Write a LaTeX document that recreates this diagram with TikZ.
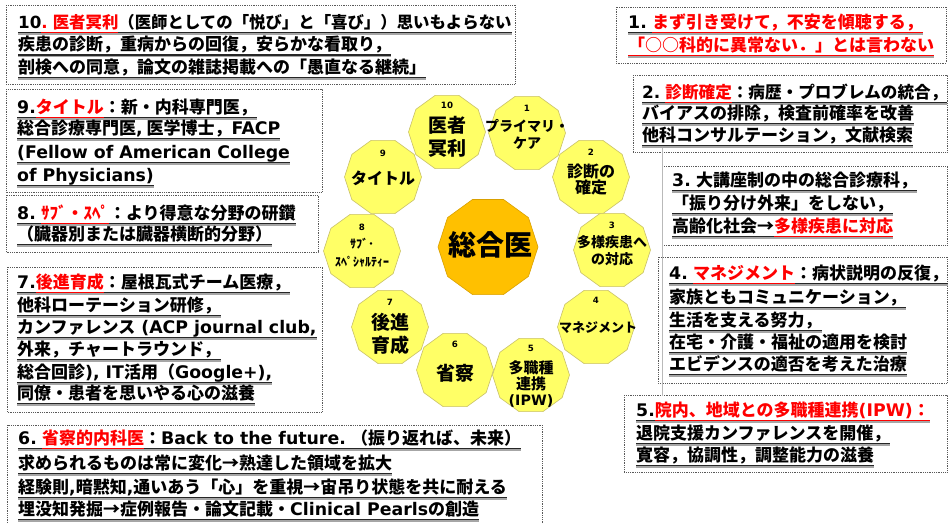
\documentclass[tikz,border=0pt]{standalone}
\usepackage{fontspec}
\setmainfont{Noto Sans CJK JP}
\newfontfamily\lat{DejaVu Sans}[Scale=1.02]
\usetikzlibrary{shapes.geometric}
\definecolor{redt}{HTML}{FF0000}
\definecolor{ulk}{HTML}{262626}
\definecolor{ulshadow}{HTML}{A6A6A6}
\definecolor{yel}{HTML}{FFFF66}
\definecolor{yelborder}{HTML}{C8C068}
\definecolor{orgc}{HTML}{FFC000}
\definecolor{orgborder}{HTML}{D9A000}
\definecolor{dotc}{HTML}{595959}
\newsavebox\ulbox
\newcommand\ulc[2]{\sbox\ulbox{#2}\rlap{\color{ulshadow}\rule[-6.6pt]{\wd\ulbox}{1.3pt}}\rlap{\color{#1}\rule[-5.0pt]{\wd\ulbox}{1.2pt}}\usebox\ulbox}
\newcommand\ul[1]{\ulc{ulk}{#1}}
\newcommand\ulr[1]{\ulc{redt}{\color{redt}#1}}
\newcommand\la[1]{{\lat #1}}
\tikzset{
  txt/.style={anchor=base west, inner sep=0pt, text=black, font=\bfseries\fontsize{17}{22}\selectfont},
  dotbox/.style={draw=dotc, line width=0.7pt, dash pattern=on 0.7pt off 1.1pt},
  ybox/.style={regular polygon, regular polygon sides=10, minimum size=77pt, inner sep=0pt, fill=yel, draw=yelborder, line width=0.6pt},
  cbox/.style={regular polygon, regular polygon sides=10, minimum size=100pt, inner sep=0pt, fill=orgc, draw=orgborder, line width=0.6pt},
  num/.style={inner sep=0pt, font=\lat\bfseries\fontsize{8.5}{10}\selectfont},
  lab/.style={inner sep=0pt, align=center, font=\bfseries\fontsize{#1}{#1}\selectfont},
}
\begin{document}
\begin{tikzpicture}[x=1pt, y=-1pt]
\useasboundingbox (0,0) rectangle (948,523);
\fill[white] (0,0) rectangle (948,523);

% dotted boxes
\draw[dotbox] (6,5) rectangle (515,84);
\draw[dotbox] (616,7) rectangle (946,63);
\draw[dotbox] (633,75) rectangle (947,152);
\draw[dotbox] (662,166) rectangle (947,245);
\draw[dotbox] (658,257) rectangle (947,383);
\draw[dotbox] (624,395) rectangle (947,472);
\draw[dotbox] (6,89) rectangle (322,192);
\draw[dotbox] (6,195) rectangle (318,252);
\draw[dotbox] (7,267) rectangle (322,412);
\draw[dotbox] (7,425) rectangle (542,535);
\draw[gray!55, line width=0.4pt] (662,148) -- (662,396);

% ring of decagons
\node[cbox] (c) at (488,247) {};
\node[inner sep=0pt, font=\bfseries\fontsize{28}{28}\selectfont] (ct) at (490,245) {総合医};

\node[ybox] (y10) at (447,132) {};
\node[ybox] (y1) at (527,133) {};
\node[ybox] (y2) at (591,177) {};
\node[ybox] (y3) at (612,250) {};
\node[ybox] (y4) at (596,327) {};
\node[ybox] (y5) at (531,375) {};
\node[ybox] (y6) at (455,370) {};
\node[ybox] (y7) at (390,327) {};
\node[ybox] (y8) at (362,251) {};
\node[ybox] (y9) at (383,177) {};

\node[num] (n10) at (447,105) {10};
\node[num] (n1) at (527,108) {1};
\node[num] (n2) at (591,152) {2};
\node[num] (n3) at (612,225) {3};
\node[num] (n4) at (596,300) {4};
\node[num] (n5) at (531,348) {5};
\node[num] (n6) at (455,344) {6};
\node[num] (n7) at (390,302) {7};
\node[num] (n8) at (362,227) {8};
\node[num] (n9) at (383,153) {9};

\node[lab=19, font=\bfseries\fontsize{19}{23}\selectfont] (l10) at (447,137) {医者\\冥利};
\node[lab=14, font=\bfseries\fontsize{14}{17}\selectfont] (l1) at (527,134) {プライマリ・\\ケア};
\node[lab=16, font=\bfseries\fontsize{16}{16}\selectfont] (l2) at (591,180) {診断の\\確定};
\node[lab=14, font=\bfseries\fontsize{14}{17}\selectfont] (l3) at (612,251) {多様疾患へ\\の対応};
\node[lab=13] (l4) at (598,328) {マネジメント};
\node[lab=15, font=\bfseries\fontsize{15}{16}\selectfont] (l5) at (531,384) {多職種\\連携\\{\fontsize{14}{16}\selectfont\la{(IPW)}}};
\node[lab=19] (l6) at (455,373) {省察};
\node[lab=19, font=\bfseries\fontsize{19}{23}\selectfont] (l7) at (390,334) {後進\\育成};
\node[lab=12, font=\bfseries\fontsize{12}{18}\selectfont] (l8) at (362,253) {ｻﾌﾞ･\\ｽﾍﾟｼｬﾙﾃｨｰ};
\node[lab=16] (l9) at (383,178) {タイトル};

% box 10
\node[txt, font=\bfseries\fontsize{16.4}{22}\selectfont] (t10a) at (18,28) {\ul{\la{10}}\ulr{\la{.} 医者冥利}\ul{（医師としての「悦び」と「喜び」）思いもよらない}};
\node[txt] (t10b) at (18,50.5) {\ul{疾患の診断，重病からの回復，安らかな看取り，}};
\node[txt] (t10c) at (18,73) {\ul{剖検への同意，論文の雑誌掲載への「愚直なる継続」}};
% box 1
\node[txt] (t1a) at (628,28) {\ul{\la{1.} }\ulr{まず引き受けて，不安を傾聴する，}};
\node[txt] (t1b) at (628,51) {\ulr{「○○科的に異常ない．」とは言わない}};
% box 2
\node[txt, font=\bfseries\fontsize{16.6}{22}\selectfont] (t2a) at (642,98) {\ul{\la{2.} }\ulr{診断確定}\ul{：病歴・プロブレムの統合，}};
\node[txt] (t2b) at (642,119) {\ul{バイアスの排除，検査前確率を改善}};
\node[txt] (t2c) at (642,141) {\ul{他科コンサルテーション，文献検索}};
% box 3
\node[txt] (t3a) at (672,186) {\ul{\la{3.} 大講座制の中の総合診療科，}};
\node[txt] (t3b) at (672,209) {\ul{「振り分け外来」をしない，}};
\node[txt] (t3c) at (672,232) {\ul{高齢化社会→}\ulr{多様疾患に対応}};
% box 4
\node[txt] (t4a) at (669,279) {\ul{\la{4.} }\ulr{マネジメント}\ul{：病状説明の反復，}};
\node[txt] (t4b) at (669,303) {\ul{家族ともコミュニケーション，}};
\node[txt] (t4c) at (669,326) {\ul{生活を支える努力，}};
\node[txt] (t4d) at (669,348) {\ul{在宅・介護・福祉の適用を検討}};
\node[txt] (t4e) at (669,370) {\ul{エビデンスの適否を考えた治療}};
% box 5
\node[txt] (t5a) at (636,416) {\ul{\la{5.}}\ulr{院内、地域との多職種連携\la{(IPW)}：}};
\node[txt] (t5b) at (636,439) {\ul{退院支援カンファレンスを開催，}};
\node[txt] (t5c) at (636,461) {\ul{寛容，協調性，調整能力の滋養}};
% box 9
\node[txt] (t9a) at (17,113) {\ul{\la{9.}}\ulr{タイトル}\ul{：新・内科専門医，}};
\node[txt] (t9b) at (17,134) {\ul{総合診療専門医\la{,} 医学博士，\la{FACP}}};
\node[txt] (t9c) at (17,158) {\ul{\la{(Fellow of American College}}};
\node[txt] (t9d) at (17,181) {\ul{\la{of Physicians)}}};
% box 8
\node[txt] (t8a) at (17,219) {\ul{\la{8.} }\ulr{ｻﾌﾞ・ｽﾍﾟ}\ul{：より得意な分野の研鑽}};
\node[txt] (t8b) at (17,240) {\ul{（臓器別または臓器横断的分野）}};
% box 7
\node[txt] (t7a) at (17,288) {\ul{\la{7.}}\ulr{後進育成}\ul{：屋根瓦式チーム医療，}};
\node[txt] (t7b) at (17,311) {\ul{他科ローテーション研修，}};
\node[txt] (t7c) at (17,333) {\ul{カンファレンス\la{ (ACP journal club,}}};
\node[txt] (t7d) at (17,355) {\ul{外来，チャートラウンド，}};
\node[txt] (t7e) at (17,378) {\ul{総合回診\la{), IT}活用（\la{Google+),}}};
\node[txt] (t7f) at (17,399) {\ul{同僚・患者を思いやる心の滋養}};
% box 6
\node[txt] (t6a) at (18,444) {\ul{\la{6.} }\ulr{省察的内科医}\ul{：\la{Back to the future.} （振り返れば、未来）}};
\node[txt] (t6b) at (18,469) {\ul{求められるものは常に変化→熟達した領域を拡大}};
\node[txt] (t6c) at (18,493) {\ul{経験則\la{,}暗黙知\la{,}通いあう「心」を重視→宙吊り状態を共に耐える}};
\node[txt] (t6d) at (18,515) {\ul{埋没知発掘→症例報告・論文記載・\la{Clinical Pearls}の創造}};
\end{tikzpicture}
\end{document}
